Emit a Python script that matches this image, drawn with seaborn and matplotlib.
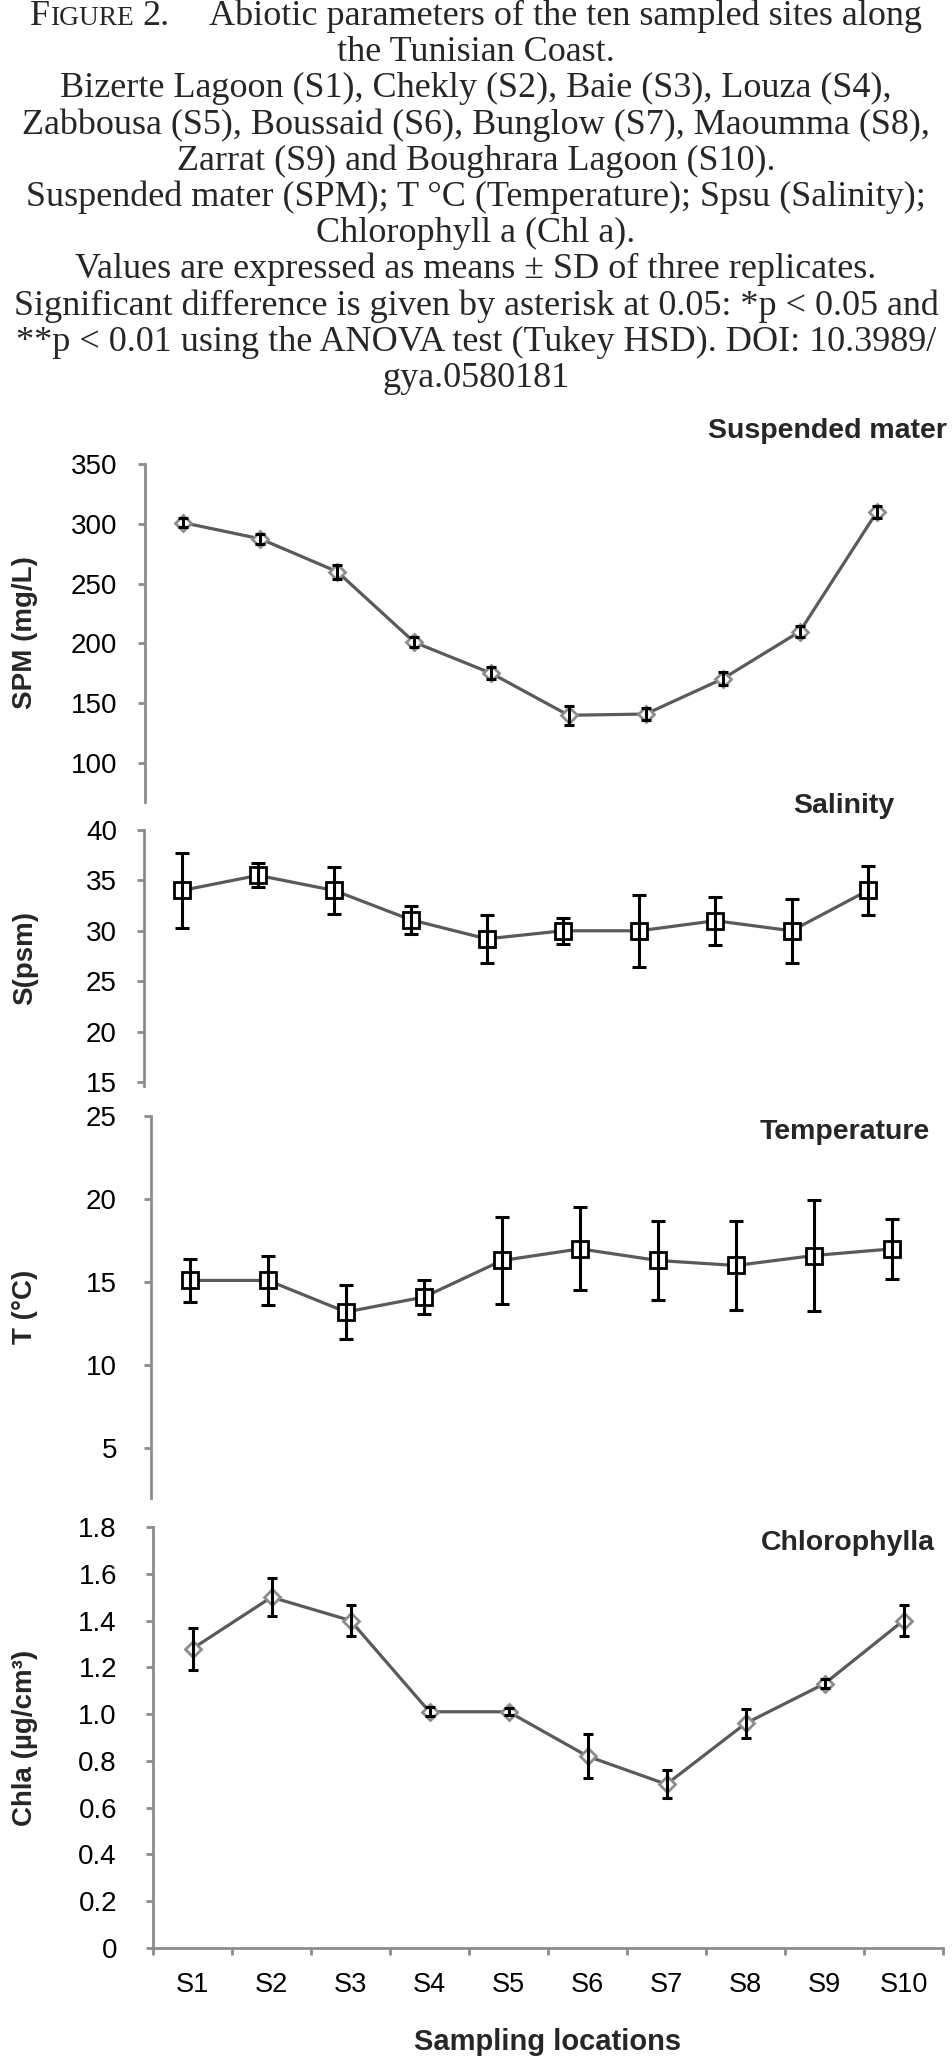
import numpy as np
import pandas as pd
import seaborn as sns
import matplotlib.pyplot as plt

# values (means and SD, three replicates)
sites = ["S1", "S2", "S3", "S4", "S5", "S6", "S7", "S8", "S9", "S10"]

spm_mean = [301, 287.5, 260, 201, 175, 140, 141, 170.5, 210, 310]
spm_sd = [3.5, 4, 6, 4, 5, 8, 5, 5.5, 5, 5.3]

sal_mean = [34, 35.5, 34, 31.1, 29.2, 30, 30, 31, 30, 34]
sal_sd = [3.7, 1.2, 2.3, 1.4, 2.4, 1.3, 3.6, 2.4, 3.2, 2.4]

temp_mean = [15.1, 15.1, 13.2, 14.1, 16.3, 17.0, 16.3, 16.0, 16.6, 17.0]
temp_sd = [1.3, 1.5, 1.65, 1.0, 2.6, 2.5, 2.35, 2.7, 3.35, 1.8]

chl_mean = [1.28, 1.50, 1.40, 1.01, 1.01, 0.82, 0.70, 0.96, 1.13, 1.40]
chl_sd = [0.09, 0.08, 0.065, 0.02, 0.015, 0.094, 0.06, 0.06, 0.018, 0.065]

spm_ticks = [100, 150, 200, 250, 300, 350]
sal_ticks = [15, 20, 25, 30, 35, 40]
temp_ticks = [5, 10, 15, 20, 25]
chl_ticks = [0, 0.2, 0.4, 0.6, 0.8, 1.0, 1.2, 1.4, 1.6, 1.8]
chl_ticklabels = ["0", "0.2", "0.4", "0.6", "0.8", "1.0", "1.2", "1.4", "1.6", "1.8"]

caption = [
    "the Tunisian Coast.",
    "Bizerte Lagoon (S1), Chekly (S2), Baie (S3), Louza (S4),",
    "Zabbousa (S5), Boussaid (S6), Bunglow (S7), Maoumma (S8),",
    "Zarrat (S9) and Boughrara Lagoon (S10).",
    "Suspended mater (SPM); T °C (Temperature); Spsu (Salinity);",
    "Chlorophyll a (Chl a).",
    "Values are expressed as means ± SD of three replicates.",
    "Significant difference is given by asterisk at 0.05: *p < 0.05 and",
    "**p < 0.01 using the ANOVA test (Tukey HSD). DOI: 10.3989/",
    "gya.0580181",
]

sns.set_theme(style="ticks")
plt.rcParams["font.family"] = ["Liberation Sans", "DejaVu Sans"]

GRAY = "#8c8c8c"
LINE = "#5a5a5a"
W, H = 952, 2060
fig = plt.figure(figsize=(W / 100, H / 100), dpi=100)


def box(l, r, t, b):
    return [l / W, 1 - b / H, (r - l) / W, (b - t) / H]


def panel(rect, mean, sd, ylim, yticks, ylabel, title, tx, ty, squares, pad):
    ax = fig.add_axes(rect)
    x = np.arange(len(sites))
    df = pd.DataFrame({"site": x, "value": mean})
    if squares:
        mk = dict(marker="s", markersize=12, markerfacecolor="white",
                  markeredgecolor="black", markeredgewidth=2)
        cap = 5
    else:
        mk = dict(marker="D", markersize=8, markerfacecolor="white",
                  markeredgecolor=GRAY, markeredgewidth=2)
        cap = 3.8
    sns.lineplot(data=df, x="site", y="value", ax=ax, color=LINE,
                 linewidth=2.3, zorder=2, **mk)
    ax.errorbar(x, mean, yerr=sd, fmt="none", ecolor="black", elinewidth=2.2,
                capsize=cap, capthick=2.2, zorder=3)

    ax.set_xlim(-0.5, len(sites) - 0.5)
    ax.set_ylim(*ylim)
    ax.set_yticks(yticks)
    ax.tick_params(axis="y", length=5, width=2, color=GRAY, pad=pad,
                   labelsize=20, labelcolor="black")
    for s in ["top", "right", "bottom"]:
        ax.spines[s].set_visible(False)
    ax.spines["left"].set_color(GRAY)
    ax.spines["left"].set_linewidth(2)
    ax.set_xticks([])
    ax.set_xlabel("")
    ax.set_ylabel(ylabel, fontsize=20, fontweight="bold", va="center")
    l, w = rect[0] * W, rect[2] * W
    ax.yaxis.set_label_coords((25 - l) / w, 0.5)
    ax.grid(False)
    fig.text(tx / W, 1 - ty / H, title, ha="right", va="baseline",
             fontsize=20.5, fontweight="bold")
    return ax


panel(box(144.5, 915.5, 464, 802), spm_mean, spm_sd, (67.5, 350), spm_ticks,
      "SPM (mg/L)", "Suspended mater", 947, 438, False, 14.8)
panel(box(143.7, 906, 830, 1086), sal_mean, sal_sd, (14.6, 40), sal_ticks,
      "S(psm)", "Salinity", 894, 813, True, 14.3)
panel(box(151, 931, 1116, 1498), temp_mean, temp_sd, (2, 25), temp_ticks,
      "T (°C)", "Temperature", 930, 1139, True, 19.5)
ax = panel(box(153, 943, 1527, 1948), chl_mean, chl_sd, (0, 1.8), chl_ticks,
           "Chla (µg/cm³)", "Chlorophylla", 935, 1550, False, 21)
ax.set_yticklabels(chl_ticklabels)

# bottom axis of the last panel: labels at sites, ticks between them
ax.spines["bottom"].set_visible(True)
ax.spines["bottom"].set_color(GRAY)
ax.spines["bottom"].set_linewidth(2)
ax.set_xticks(np.arange(len(sites)))
ax.set_xticklabels(sites)
ax.set_xticks(np.arange(len(sites) + 1) - 0.5, minor=True)
ax.tick_params(axis="x", which="major", length=0, pad=17, labelsize=19.5,
               labelcolor="black")
ax.tick_params(axis="x", which="minor", length=5, width=2, color=GRAY)
ax.set_xlabel("Sampling locations", fontsize=21, fontweight="bold", va="baseline")
ax.xaxis.set_label_coords(0.5, -(2050 - 1948) / (1948 - 1527))

# caption, serif, one line per text, first line with small caps
serif = ["Liberation Serif", "DejaVu Serif"]
FS = 26
r = fig.canvas.get_renderer()
pieces = [("F", FS, 0), ("IGURE", FS * 0.76, 0), ("2.", FS, 9),
          ("Abiotic parameters of the ten sampled sites along", FS, 40)]
texts, widths = [], []
for s, fs, gap in pieces:
    t = fig.text(0, 1 - 25 / H, s, fontsize=fs, family=serif, va="baseline")
    texts.append(t)
    widths.append(t.get_window_extent(renderer=r).width + gap)
total = sum(widths)
x0 = (W - total) / 2
for t, (s, fs, gap), w in zip(texts, pieces, widths):
    x0 += gap
    t.set_x(x0 / W)
    x0 += w - gap

for i, line in enumerate(caption):
    fig.text(0.5, 1 - (25 + 36.2 * (i + 1)) / H, line, ha="center",
             va="baseline", fontsize=FS, family=serif)

fig.savefig("out.png", dpi=100)
